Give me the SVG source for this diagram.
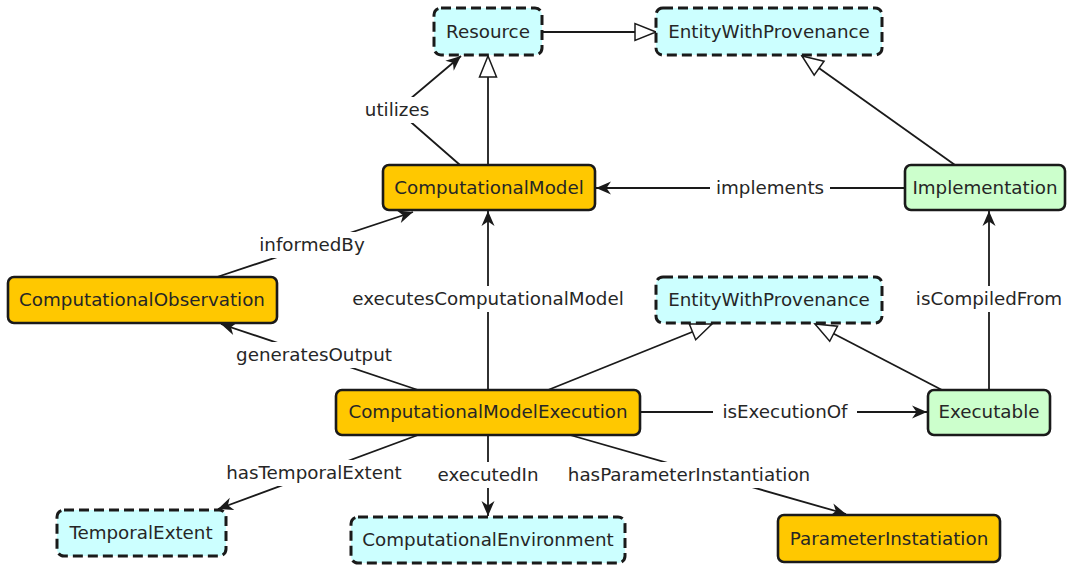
<svg xmlns="http://www.w3.org/2000/svg" width="1068" height="568" viewBox="0 0 1068 568">
<style>
  .box{stroke:#1a1a1a;stroke-width:2.6}
  .dash{fill:#ccffff;stroke-dasharray:10 5;stroke-width:3}
  .orange{fill:#ffc800}
  .green{fill:#ccffcc}
  .cyan{fill:#ccffff}
  text{font-family:"DejaVu Sans","Liberation Sans",sans-serif;font-size:18.3px;fill:#262626;text-anchor:middle}
  .edge{fill:none;stroke:#1a1a1a;stroke-width:1.8}
  .lbg{fill:#ffffff}
</style>
<defs>
  <marker id="arrow" markerUnits="userSpaceOnUse" viewBox="-16 -8 17 16" refX="0" refY="0" markerWidth="17" markerHeight="16" orient="auto">
    <path d="M0,0 L-15,-6.5 L-10.5,0 L-15,6.5 Z" fill="#1a1a1a"/>
  </marker>
  <marker id="tri" markerUnits="userSpaceOnUse" viewBox="-24 -11 26 22" refX="0" refY="0" markerWidth="26" markerHeight="22" orient="auto">
    <path d="M0,0 L-21,-8.5 L-21,8.5 Z" fill="#ffffff" stroke="#1a1a1a" stroke-width="1.5"/>
  </marker>
</defs>
<rect width="1068" height="568" fill="#ffffff"/>
<g id="connectors">
  <line class="edge" x1="542" y1="32" x2="656" y2="32" marker-end="url(#tri)"/>
  <line class="edge" x1="488" y1="165" x2="488" y2="56" marker-end="url(#tri)"/>
  <polyline class="edge" points="460,165 397,110 461,56" marker-end="url(#arrow)"/>
  <line class="edge" x1="955" y1="165" x2="802" y2="56" marker-end="url(#tri)"/>
  <line class="edge" x1="905" y1="188" x2="596" y2="188" marker-end="url(#arrow)"/>
  <line class="edge" x1="217" y1="277" x2="413" y2="212" marker-end="url(#arrow)"/>
  <line class="edge" x1="488" y1="390" x2="488" y2="211" marker-end="url(#arrow)"/>
  <line class="edge" x1="418" y1="390" x2="221" y2="324" marker-end="url(#arrow)"/>
  <line class="edge" x1="548" y1="390" x2="712" y2="324" marker-end="url(#tri)"/>
  <line class="edge" x1="942" y1="390" x2="815" y2="324" marker-end="url(#tri)"/>
  <line class="edge" x1="989" y1="390" x2="989" y2="211" marker-end="url(#arrow)"/>
  <line class="edge" x1="640" y1="412" x2="927" y2="412" marker-end="url(#arrow)"/>
  <line class="edge" x1="418" y1="435" x2="218" y2="509" marker-end="url(#arrow)"/>
  <line class="edge" x1="488" y1="435" x2="488" y2="516" marker-end="url(#arrow)"/>
  <line class="edge" x1="570" y1="435" x2="846" y2="514" marker-end="url(#arrow)"/>
  <rect class="lbg" x="360" y="97" width="74" height="26"/>
  <text x="397" y="116">utilizes</text>
  <rect class="lbg" x="710" y="175" width="120" height="26"/>
  <text x="770" y="194">implements</text>
  <rect class="lbg" x="257" y="232" width="110" height="26"/>
  <text x="312" y="251">informedBy</text>
  <rect class="lbg" x="344" y="286" width="288" height="26"/>
  <text x="488" y="305">executesComputationalModel</text>
  <rect class="lbg" x="230" y="342" width="168" height="26"/>
  <text x="314" y="361">generatesOutput</text>
  <rect class="lbg" x="908" y="286" width="162" height="26"/>
  <text x="989" y="305">isCompiledFrom</text>
  <rect class="lbg" x="713" y="399" width="144" height="26"/>
  <text x="785" y="418">isExecutionOf</text>
  <rect class="lbg" x="218" y="460" width="192" height="26"/>
  <text x="314" y="479">hasTemporalExtent</text>
  <rect class="lbg" x="433" y="462" width="110" height="26"/>
  <text x="488" y="481">executedIn</text>
  <rect class="lbg" x="558" y="462" width="262" height="26"/>
  <text x="689" y="481">hasParameterInstantiation</text>
</g>
<g id="Resource"><rect class="box dash" x="434" y="8" width="108" height="47" rx="7"/><text x="488" y="38">Resource</text></g>
<g id="EntityWithProvenance1"><rect class="box dash" x="656" y="8" width="226" height="47" rx="7"/><text x="769" y="38">EntityWithProvenance</text></g>
<g id="ComputationalModel"><rect class="box orange" x="383" y="165" width="212" height="45" rx="6"/><text x="489" y="194">ComputationalModel</text></g>
<g id="Implementation"><rect class="box green" x="905" y="165" width="160" height="45" rx="6"/><text x="985" y="194">Implementation</text></g>
<g id="ComputationalObservation"><rect class="box orange" x="8" y="277" width="269" height="46" rx="6"/><text x="142" y="306">ComputationalObservation</text></g>
<g id="EntityWithProvenance2"><rect class="box dash" x="656" y="277" width="226" height="46" rx="7"/><text x="769" y="306">EntityWithProvenance</text></g>
<g id="ComputationalModelExecution"><rect class="box orange" x="336" y="390" width="304" height="45" rx="6"/><text x="488" y="418">ComputationalModelExecution</text></g>
<g id="Executable"><rect class="box green" x="928" y="390" width="122" height="45" rx="6"/><text x="989" y="418">Executable</text></g>
<g id="TemporalExtent"><rect class="box dash" x="57" y="510" width="169" height="46" rx="7"/><text x="141" y="539">TemporalExtent</text></g>
<g id="ComputationalEnvironment"><rect class="box dash" x="351" y="517" width="274" height="46" rx="7"/><text x="488" y="546">ComputationalEnvironment</text></g>
<g id="ParameterInstatiation"><rect class="box orange" x="778" y="515" width="222" height="47" rx="6"/><text x="889" y="545">ParameterInstatiation</text></g>
</svg>
